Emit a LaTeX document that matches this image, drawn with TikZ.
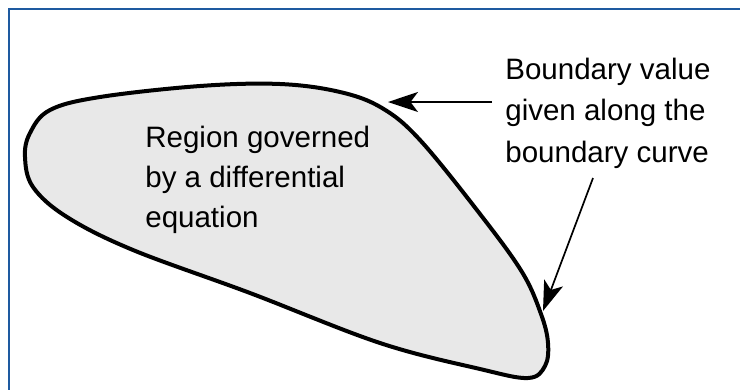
\documentclass[tikz,border=0pt]{standalone}
\usepackage{fontspec}
\setmainfont{Liberation Sans}
\usetikzlibrary{arrows.meta}
\definecolor{framecolor}{RGB}{30,90,160}
\definecolor{regiongray}{RGB}{232,232,232}

\begin{document}
\begin{tikzpicture}[x = 0.02cm, y = -0.02cm]

	\useasboundingbox (0, 0) rectangle (740, 390);

	%%% MOLDURA %%%

	\draw[line width = 0.04cm, framecolor] (740, 9) -- (9, 9) -- (9, 390);

	%%% REGIAO %%%

	\draw[line width = 0.08cm, black, fill = regiongray] plot[smooth cycle, tension = 0.6] coordinates {
		(25,157) (33,187) (67,217) (133,250) (250,293) (380,343) (480,369) (528,378)
		(545,366) (548,343) (541,314) (522,272) (480,214) (420,140) (382,108) (340,92)
		(280,84) (200,86) (100,97) (50,110) (30,133)
	};

	\node[black, anchor = north west, inner sep = 0pt, align = left, font = \fontsize{16.8pt}{22.8pt}\selectfont] (regiao) at (145, 125.5) {Region governed\\by a differential\\equation};

	%%% CONTORNO %%%

	\node[black, anchor = north west, inner sep = 0pt, align = left, font = \fontsize{16.8pt}{23.6pt}\selectfont] (valor) at (505, 57.5) {Boundary value\\given along the\\boundary curve};

	\coordinate (topo)   at (388, 102); % ponta da seta de cima
	\coordinate (inicio) at (492, 102);
	\coordinate (baixo)  at (543, 311); % ponta da seta de baixo
	\coordinate (saida)  at (593, 178);

	\draw[line width = 0.034cm, black, -{Stealth[length = 0.6cm, width = 0.4cm, inset = 0.15cm]}] (inicio) -- (topo);
	\draw[line width = 0.034cm, black, -{Stealth[length = 0.6cm, width = 0.4cm, inset = 0.15cm]}] (saida) -- (baixo);

\end{tikzpicture}
\end{document}
